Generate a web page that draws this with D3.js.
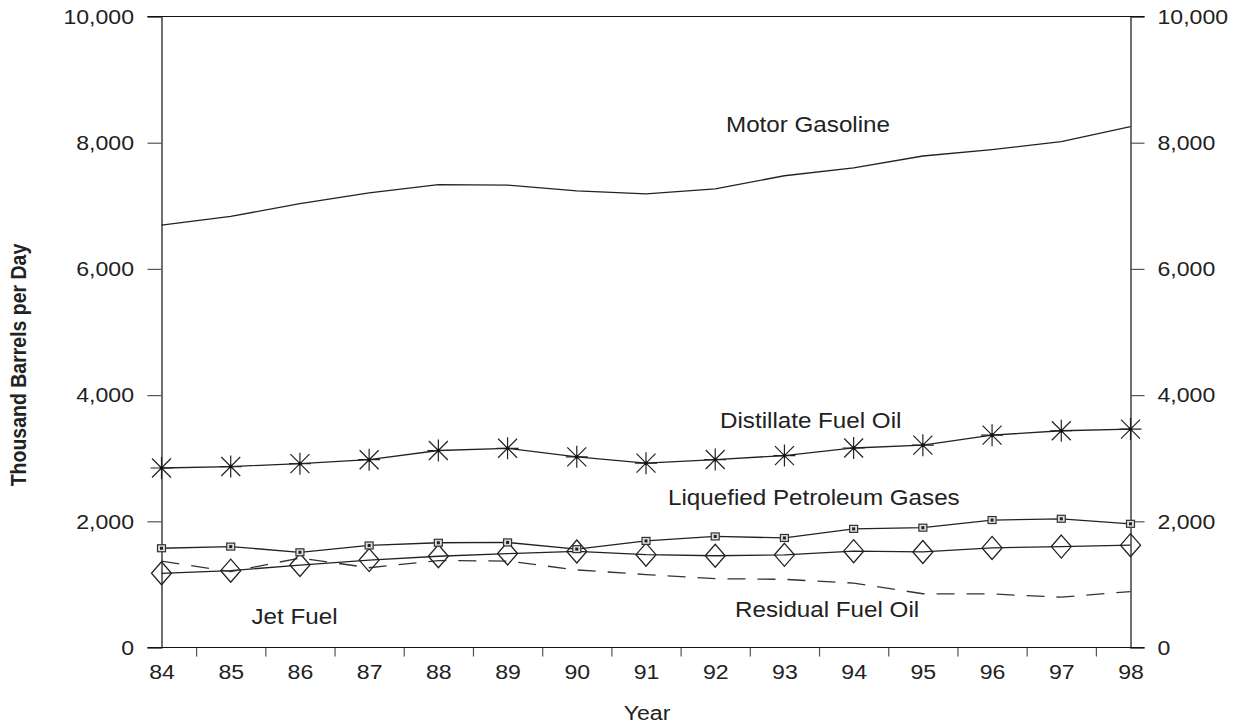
<!DOCTYPE html>
<html>
<head>
<meta charset="utf-8">
<script src="https://cdn.jsdelivr.net/npm/d3@7"></script>
<style>
  html, body { margin: 0; padding: 0; background: #fff; }
  svg { display: block; font-family: "Liberation Sans", Arial, sans-serif; }
</style>
</head>
<body>
<svg id="chart" width="1242" height="725"></svg>
<script>
// Petroleum products supplied, 1984-1998 (thousand barrels per day)
const years = [84, 85, 86, 87, 88, 89, 90, 91, 92, 93, 94, 95, 96, 97, 98];
const motorGasoline = [6693, 6831, 7034, 7206, 7336, 7328, 7235, 7188, 7268, 7476, 7601, 7789, 7891, 8017, 8253];
const distillateFuelOil = [2845, 2868, 2914, 2976, 3122, 3157, 3021, 2921, 2979, 3041, 3162, 3207, 3365, 3435, 3461];
const liquefiedGases = [1573, 1599, 1509, 1617, 1660, 1665, 1559, 1689, 1760, 1736, 1880, 1899, 2020, 2040, 1960];
const jetFuel = [1176, 1218, 1307, 1385, 1446, 1489, 1522, 1471, 1454, 1469, 1527, 1514, 1578, 1599, 1622];
const residualFuelOil = [1369, 1202, 1418, 1264, 1378, 1370, 1229, 1156, 1091, 1080, 1021, 852, 848, 797, 887];
const yTicks = [0, 2000, 4000, 6000, 8000, 10000];
const minorYearTicks = [84.5, 85.5, 86.5, 87.5, 88.5, 89.5, 90.5, 91.5, 92.5, 93.5, 94.5, 95.5, 96.5, 97.5];

const svg = d3.select("#chart");
const x = d3.scaleLinear().domain([84, 98]).range([161.5, 1130.5]);
const y = d3.scaleLinear().domain([0, 10000]).range([647.5, 16.5]);
const SX = "scale(1.1,1)";
const fmt = d3.format(",");

// Axes
const left = svg.append("g").attr("transform", `translate(${x(84)},0)`)
  .call(d3.axisLeft(y).tickValues(yTicks).tickFormat(fmt).tickSize(14).tickPadding(11));
const right = svg.append("g").attr("transform", `translate(${x(98)},0)`)
  .call(d3.axisRight(y).tickValues(yTicks).tickFormat(fmt).tickSize(14).tickPadding(10.5));
const bottom = svg.append("g").attr("transform", `translate(0,${y(0)})`)
  .call(d3.axisBottom(x).tickValues(years).tickFormat(d => d).tickSize(0).tickPadding(17));
const bottomTicks = svg.append("g").attr("transform", `translate(0,${y(0)})`)
  .call(d3.axisBottom(x).tickValues(minorYearTicks).tickFormat("").tickSize(9));

[left, right, bottom, bottomTicks].forEach(g => {
  g.select(".domain").attr("stroke", "#111").attr("stroke-width", 1.2);
  g.selectAll(".tick line").attr("stroke", "#555").attr("stroke-width", 1.2);
  g.selectAll(".tick text").attr("font-size", 21).attr("fill", "#222")
    .attr("font-family", "'Liberation Sans', Arial, sans-serif").attr("transform", SX);
});
bottom.select(".domain").remove();
bottomTicks.select(".domain").remove();

// frame lines across top and bottom, running out to the tick ends
[0, 10000].forEach(v => {
  svg.append("line").attr("x1", x(84) - 14).attr("x2", x(98) + 14)
    .attr("y1", y(v)).attr("y2", y(v)).attr("stroke", "#111").attr("stroke-width", 1.2);
});

// Axis titles
svg.append("text").attr("transform", `translate(647,720) ${SX}`)
  .attr("text-anchor", "middle").attr("font-size", 21).attr("fill", "#222").text("Year");
svg.append("text").attr("transform", `translate(26,365) ${SX} rotate(-90)`)
  .attr("text-anchor", "middle").attr("font-size", 19.5).attr("font-weight", "bold")
  .attr("fill", "#222").text("Thousand Barrels per Day");

// Series lines
const line = vals => d3.line().x((d, i) => x(years[i])).y(d => y(d))(vals);
const plot = svg.append("g").attr("fill", "none").attr("stroke", "#222").attr("stroke-width", 1.3);
plot.append("path").attr("d", line(motorGasoline));
plot.append("path").attr("d", line(distillateFuelOil));
plot.append("path").attr("d", line(jetFuel));
plot.append("path").attr("d", line(liquefiedGases));
plot.append("path").attr("d", line(residualFuelOil)).attr("stroke", "#333").attr("stroke-dasharray", "18,12");

// Markers: asterisks for distillate
const star = "M0,-11V11M-11,0H11M-9.5,-9.5L9.5,9.5M-9.5,9.5L9.5,-9.5";
const stars = svg.append("g").selectAll("g").data(distillateFuelOil).join("g")
  .attr("transform", (d, i) => `translate(${x(years[i])},${y(d)})`);
stars.append("path").attr("d", star).attr("stroke", "#222").attr("stroke-width", 1.2).attr("fill", "none");
stars.append("circle").attr("r", 1.8).attr("fill", "#111");

// diamonds for jet fuel
const diamond = "M0,-11.5L10,0L0,11.5L-10,0Z";
svg.append("g").selectAll("path").data(jetFuel).join("path")
  .attr("transform", (d, i) => `translate(${x(years[i])},${y(d)})`)
  .attr("d", diamond).attr("fill", "none").attr("stroke", "#222").attr("stroke-width", 1.3);

// small boxed squares for LPG
const sq = svg.append("g").selectAll("g").data(liquefiedGases).join("g")
  .attr("transform", (d, i) => `translate(${x(years[i])},${y(d)})`);
sq.append("rect").attr("x", -4).attr("y", -3.5).attr("width", 8).attr("height", 7)
  .attr("fill", "#ddd").attr("stroke", "#333").attr("stroke-width", 1.2);
sq.append("rect").attr("x", -1.5).attr("y", -1.5).attr("width", 3).attr("height", 3).attr("fill", "#222");

// Series labels
const labels = [
  { text: "Motor Gasoline", x: 726, y: 131.5 },
  { text: "Distillate Fuel Oil", x: 720, y: 428 },
  { text: "Liquefied Petroleum Gases", x: 668, y: 505 },
  { text: "Residual Fuel Oil", x: 735, y: 616.5 },
  { text: "Jet Fuel", x: 251.5, y: 624 }
];
svg.append("g").selectAll("text").data(labels).join("text")
  .attr("transform", d => `translate(${d.x},${d.y}) ${SX}`)
  .attr("font-size", 22).attr("fill", "#222").text(d => d.text);
</script>
</body>
</html>
